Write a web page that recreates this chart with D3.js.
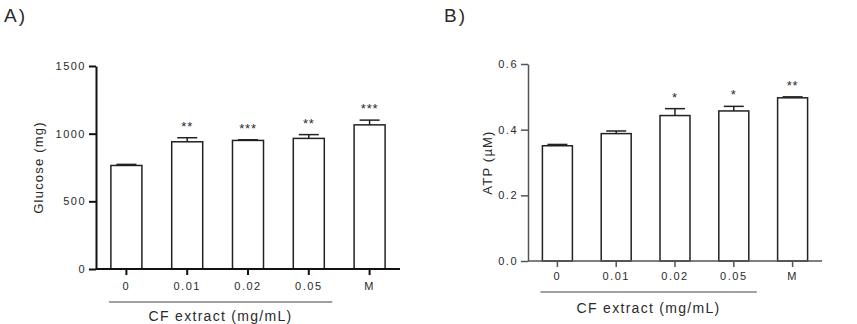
<!DOCTYPE html>
<html>
<head>
<meta charset="utf-8">
<script src="https://cdn.jsdelivr.net/npm/d3@7"></script>
<style>
  body { margin: 0; background: #fff; }
  svg { display: block; }
  text { font-family: "Liberation Sans", Arial, sans-serif; fill: #2a2a2a; }
</style>
</head>
<body>
<svg id="chart" width="857" height="324"></svg>
<script>
// data
var categories = ["0", "0.01", "0.02", "0.05", "M"];

var glucoseMeans = [765, 940, 950, 965, 1065];
var glucoseErrors = [8, 30, 5, 28, 35];
var glucoseStars = ["", "**", "***", "**", "***"];
var glucoseTicks = [0, 500, 1000, 1500];

var atpMeans = [0.351, 0.388, 0.443, 0.457, 0.497];
var atpErrors = [0.004, 0.008, 0.021, 0.014, 0.003];
var atpStars = ["", "", "*", "*", "**"];
var atpTicks = [0, 0.2, 0.4, 0.6];

var svg = d3.select("#chart");

function drawPanel(p) {
    var g = svg.append("g");

    var x = d3.scaleBand().domain(categories).range([p.x0, p.x1])
        .paddingInner(0.49).paddingOuter(0.245);
    var y = d3.scaleLinear().domain([0, p.yMax]).range([p.y0, p.y1]);

    var rows = categories.map(function(c, i) {
        return { cat: c, mean: p.means[i], err: p.errors[i], star: p.stars[i] };
    });

    // bars
    g.selectAll(".bar").data(rows).enter().append("rect")
        .attr("x", function(d) { return x(d.cat); })
        .attr("y", function(d) { return y(d.mean); })
        .attr("width", x.bandwidth())
        .attr("height", function(d) { return y(0) - y(d.mean); })
        .attr("fill", "#fff").attr("stroke", "#222").attr("stroke-width", 1.5);

    // error bars (upper only)
    var eb = g.selectAll(".err").data(rows).enter().append("g")
        .attr("stroke", "#222").attr("stroke-width", 1.5);
    eb.append("line")
        .attr("x1", function(d) { return x(d.cat) + x.bandwidth() / 2; })
        .attr("x2", function(d) { return x(d.cat) + x.bandwidth() / 2; })
        .attr("y1", function(d) { return y(d.mean); })
        .attr("y2", function(d) { return y(d.mean + d.err); });
    eb.append("line")
        .attr("x1", function(d) { return x(d.cat) + x.bandwidth() / 2 - 10; })
        .attr("x2", function(d) { return x(d.cat) + x.bandwidth() / 2 + 10; })
        .attr("y1", function(d) { return y(d.mean + d.err); })
        .attr("y2", function(d) { return y(d.mean + d.err); });

    // significance stars
    g.selectAll(".star").data(rows).enter().append("text")
        .attr("x", function(d) { return x(d.cat) + x.bandwidth() / 2; })
        .attr("y", function(d) { return y(d.mean + d.err) - 7; })
        .attr("text-anchor", "middle")
        .style("font-size", "13px").style("letter-spacing", "0.8px")
        .text(function(d) { return d.star; });

    // axes
    var yAxis = d3.axisLeft(y).tickValues(p.ticks).tickFormat(p.fmt)
        .tickSize(7).tickSizeOuter(0).tickPadding(3);
    var ya = g.append("g").attr("transform", "translate(" + p.x0 + ",0)").call(yAxis);

    var xAxis = d3.axisBottom(x).tickSize(6).tickSizeOuter(0).tickPadding(p.xPad);
    var xa = g.append("g").attr("transform", "translate(0," + p.y0 + ")").call(xAxis);
    xa.select(".domain").attr("d", "M" + p.x0 + ",0H" + p.x1);

    [ya, xa].forEach(function(a) {
        a.selectAll("path, line").attr("stroke", p.axisColor).attr("stroke-width", p.axisWidth);
        a.selectAll("text").style("font-size", "11px").style("letter-spacing", "1.5px")
            .attr("fill", "#2a2a2a").style("font-family", '"Liberation Sans", Arial, sans-serif');
    });

    // y label
    g.append("text")
        .attr("transform", "translate(" + p.yLabelX + "," + ((p.y0 + p.y1) / 2) + ") rotate(-90)")
        .attr("text-anchor", "middle")
        .style("font-size", "13px").style("letter-spacing", "1.2px")
        .text(p.yLabel);

    // group underline and x label
    var ux0 = x(categories[0]) - 2;
    var ux1 = x(categories[3]) + x.bandwidth() + 8;
    g.append("line").attr("x1", ux0).attr("x2", ux1)
        .attr("y1", p.underY).attr("y2", p.underY)
        .attr("stroke", "#444").attr("stroke-width", 1.2);
    g.append("text")
        .attr("x", (ux0 + ux1) / 2).attr("y", p.xLabelY)
        .attr("text-anchor", "middle")
        .style("font-size", "14px").style("letter-spacing", "1.3px")
        .text("CF extract (mg/mL)");

    // panel letter
    g.append("text").attr("x", p.letterX).attr("y", 22)
        .style("font-size", "19px").style("letter-spacing", "2px").attr("fill", "#222")
        .text(p.letter);
}

drawPanel({
    letter: "A)", letterX: 4,
    x0: 96, x1: 400, y0: 269, y1: 66,
    yMax: 1500, ticks: glucoseTicks, fmt: d3.format("d"),
    means: glucoseMeans, errors: glucoseErrors, stars: glucoseStars,
    yLabel: "Glucose (mg)", yLabelX: 43,
    xPad: 7, underY: 302, xLabelY: 321,
    axisColor: "#111", axisWidth: 2
});

drawPanel({
    letter: "B)", letterX: 444,
    x0: 528, x1: 822, y0: 261, y1: 64,
    yMax: 0.6, ticks: atpTicks, fmt: d3.format(".1f"),
    means: atpMeans, errors: atpErrors, stars: atpStars,
    yLabel: "ATP (\u00b5M)", yLabelX: 492,
    xPad: 5, underY: 292, xLabelY: 313,
    axisColor: "#555", axisWidth: 1.5
});
</script>
</body>
</html>
